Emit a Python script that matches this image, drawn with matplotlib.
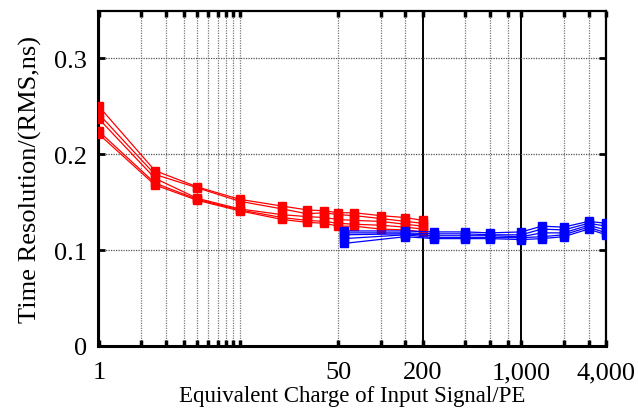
import matplotlib
matplotlib.use("Agg")
import matplotlib.pyplot as plt
from matplotlib.ticker import FixedLocator, FixedFormatter, NullFormatter

plt.rcParams['font.family'] = ['Liberation Serif', 'DejaVu Serif']

# charge points (PE) for the low-range (red) and high-range (blue) channels
red_x = [1, 2.5, 5, 10, 20, 30, 40, 50, 65, 100, 150, 200]
red_runs = [
    [0.250, 0.183, 0.166, 0.153, 0.146, 0.142, 0.141, 0.139, 0.139, 0.136, 0.134, 0.131],
    [0.242, 0.179, 0.165, 0.151, 0.143, 0.138, 0.139, 0.137, 0.136, 0.133, 0.130, 0.128],
    [0.237, 0.175, 0.154, 0.143, 0.137, 0.135, 0.134, 0.132, 0.131, 0.130, 0.127, 0.125],
    [0.224, 0.170, 0.153, 0.142, 0.134, 0.131, 0.130, 0.128, 0.127, 0.126, 0.124, 0.122],
    [0.221, 0.168, 0.152, 0.141, 0.132, 0.129, 0.128, 0.125, 0.125, 0.122, 0.121, 0.119],
]

blue_x = [55, 150, 240, 400, 600, 1000, 1400, 2000, 3000, 4000]
blue_runs = [
    [0.120, 0.120, 0.119, 0.119, 0.118, 0.119, 0.125, 0.124, 0.130, 0.128],
    [0.118, 0.118, 0.117, 0.117, 0.116, 0.116, 0.122, 0.121, 0.128, 0.125],
    [0.116, 0.117, 0.115, 0.115, 0.115, 0.114, 0.118, 0.118, 0.126, 0.121],
    [0.112, 0.116, 0.113, 0.113, 0.113, 0.113, 0.114, 0.116, 0.124, 0.118],
    [0.107, 0.114, 0.112, 0.112, 0.112, 0.111, 0.112, 0.114, 0.122, 0.116],
]

major_x = [1, 50, 200, 1000, 4000]
major_labels = ['1', '50', '200', '1,000', '4,000']
minor_x = [2, 3, 4, 5, 6, 7, 8, 9, 10, 100, 150, 400, 600, 800, 2000, 3000]
heavy_x = [200, 1000, 4000]
y_ticks = [0, 0.1, 0.2, 0.3]

fig = plt.figure(figsize=(6.38, 4.14), dpi=100)
ax = fig.add_axes([0.154, 0.162, 0.796, 0.810])
ax.set_xscale('log')
ax.set_xlim(0.99, 4000)
ax.set_ylim(0, 0.35)

# grid
for xv in minor_x + [1, 50]:
    ax.axvline(xv, color='#7a7a7a', lw=0.9, ls=(0, (1, 1)), zorder=1)
for xv in heavy_x:
    ax.axvline(xv, color='black', lw=1.4, zorder=1)
for yv in y_ticks[1:]:
    ax.axhline(yv, color='#555555', lw=0.9, ls=(0, (1, 1)), zorder=1)

for ys in red_runs:
    ax.plot(red_x, ys, color='#ff0000', lw=0.9, marker='s', ms=5.5,
            mec='#ff0000', mfc='#ff0000', zorder=3)
for ys in blue_runs:
    ax.plot(blue_x, ys, color='#0000ff', lw=0.9, marker='s', ms=5.5,
            mec='#0000ff', mfc='#0000ff', zorder=3)

ax.xaxis.set_major_locator(FixedLocator(major_x))
ax.xaxis.set_major_formatter(FixedFormatter(major_labels))
ax.xaxis.set_minor_locator(FixedLocator(minor_x))
ax.xaxis.set_minor_formatter(NullFormatter())
ax.set_yticks(y_ticks)
ax.set_yticklabels(['0', '0.1', '0.2', '0.3'])

ax.tick_params(axis='x', which='both', direction='in', top=True, bottom=True,
               length=4, width=2.5, labelsize=19, pad=11, color='black')
ax.tick_params(axis='y', which='major', direction='in', left=True, right=True,
               length=5, width=2, labelsize=19, pad=8, color='black')

ax.spines['left'].set_linewidth(2.2)
ax.spines['bottom'].set_linewidth(2.2)
ax.spines['top'].set_linewidth(1.6)
ax.spines['right'].set_linewidth(1.6)

ax.set_xlabel('Equivalent Charge of Input Signal/PE', fontsize=16.5, labelpad=1)
ax.set_ylabel('Time Resolution/(RMS,ns)', fontsize=19, labelpad=9)

fig.savefig('out.png', dpi=100)
